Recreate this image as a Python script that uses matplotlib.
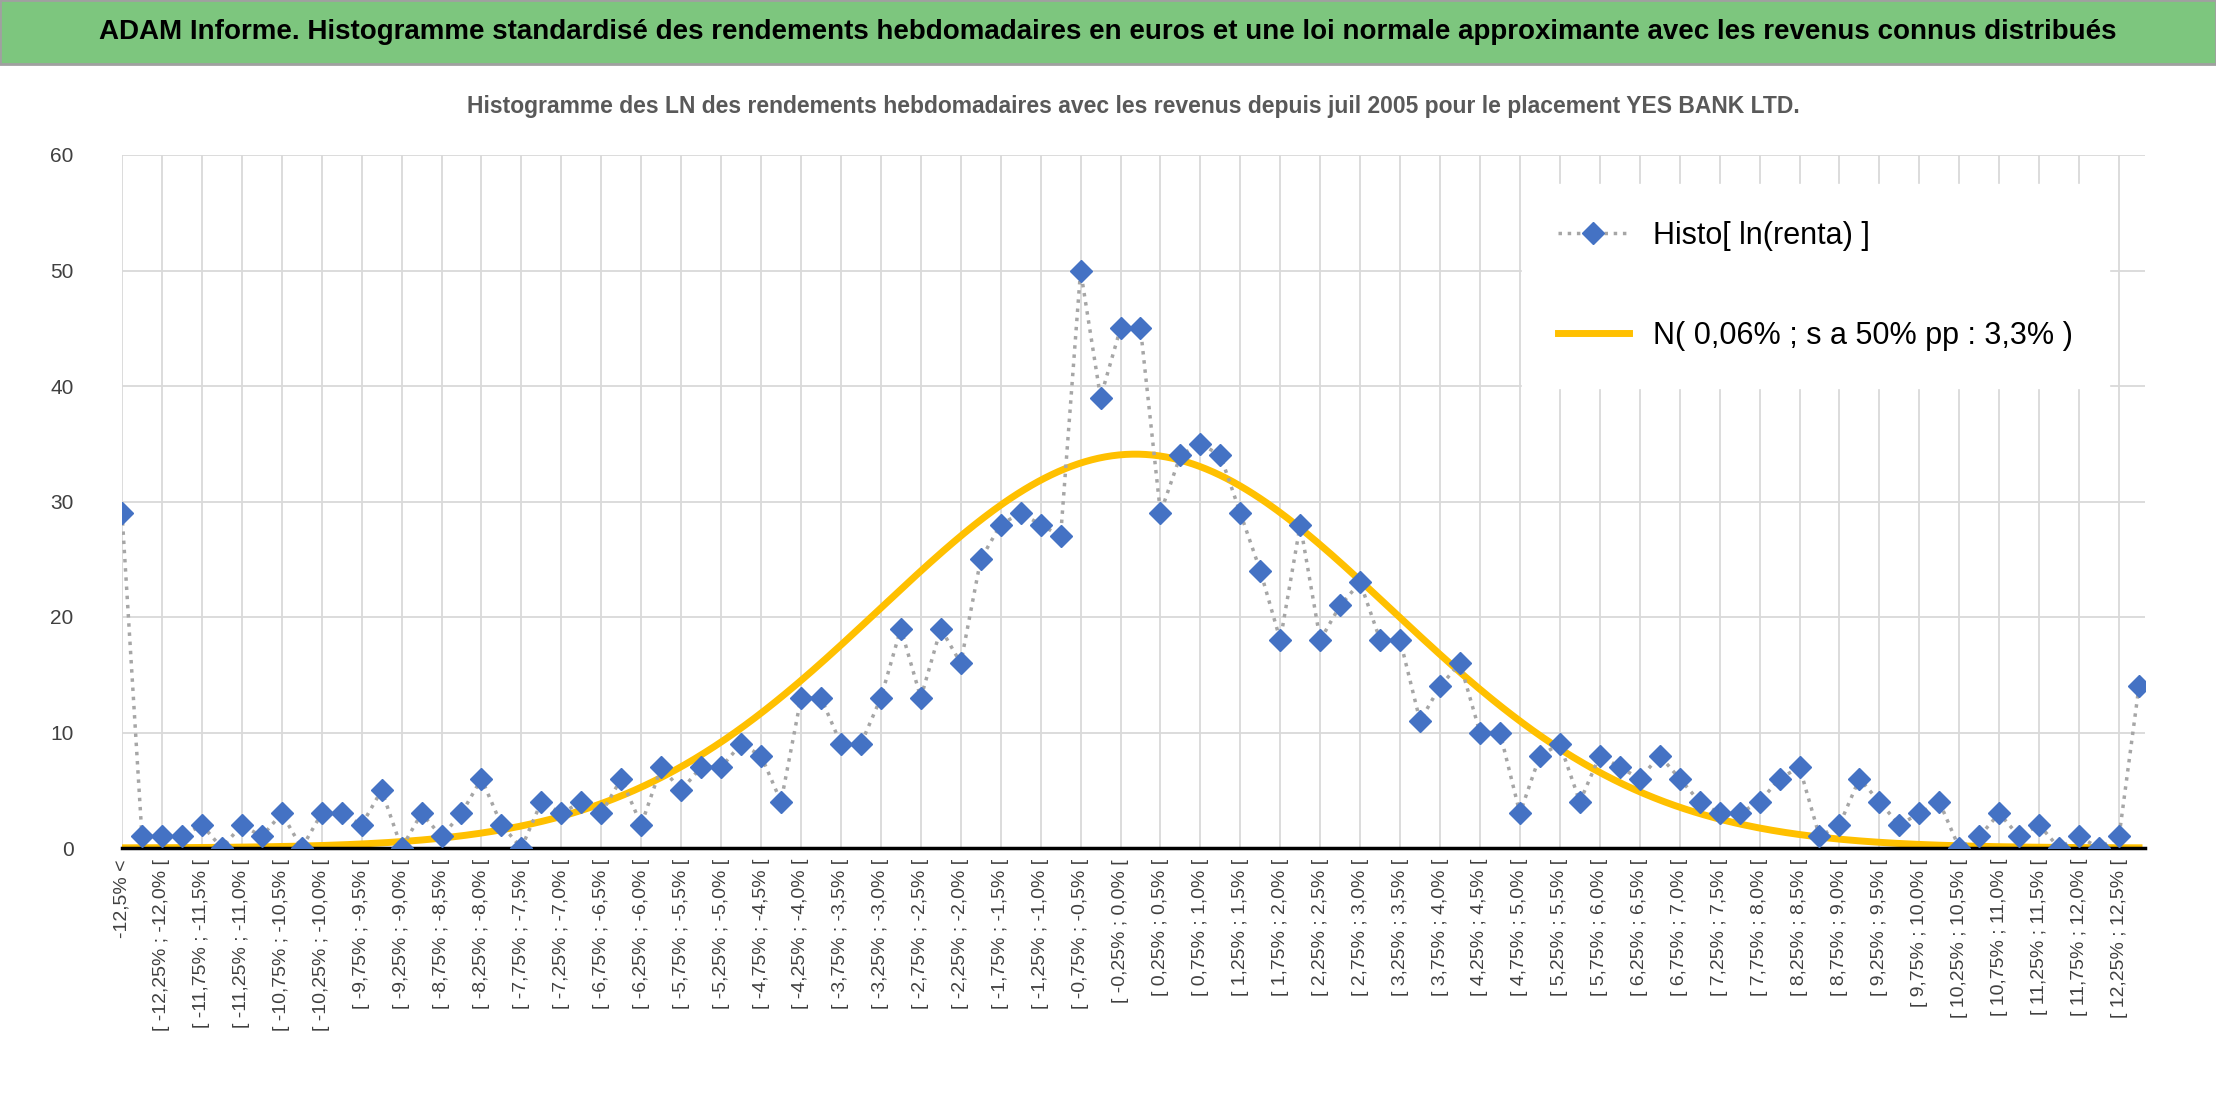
import numpy as np
import matplotlib.pyplot as plt
from matplotlib.patches import Rectangle

# ---------- DATA ----------
counts = [29, 1, 1, 1, 2, 0, 2, 1, 3, 0,
          3, 3, 2, 5, 0, 3, 1, 3, 6, 2,
          0, 4, 3, 4, 3, 6, 2, 7, 5, 7,
          7, 9, 8, 4, 13, 13, 9, 9, 13, 19,
          13, 19, 16, 25, 28, 29, 28, 27, 50, 39,
          45, 45, 29, 34, 35, 34, 29, 24, 18, 28,
          18, 21, 23, 18, 18, 11, 14, 16, 10, 10,
          3, 8, 9, 4, 8, 7, 6, 8, 6, 4,
          3, 3, 4, 6, 7, 1, 2, 6, 4, 2,
          3, 4, 0, 1, 3, 1, 2, 0, 1, 0,
          1, 14]
mean_pct = 0.06
sigma_pct = 3.2
peak = 34.1


def fmt(v):
    s = f"{v:.2f}".rstrip('0')
    if s.endswith('.'):
        s += '0'
    return s.replace('.', ',') + '%'


labels = ["-12,5% <"]
for i in range(100):
    lo = -12.5 + 0.25 * i
    labels.append(f"[ {fmt(lo)} ; {fmt(lo + 0.25)} [")
labels.append("12,5% >")

x = np.arange(len(counts))
# bin centres in % for the fitted normal curve
centres = np.array([-12.5] + [-12.5 + 0.25 * i + 0.125 for i in range(100)] + [12.5])
xs = np.linspace(0, len(counts) - 1, 600)
cs = np.interp(xs, x, centres)
curve = peak * np.exp(-0.5 * ((cs - mean_pct) / sigma_pct) ** 2)

# ---------- PLOT ----------
plt.rcParams['font.family'] = ['Liberation Sans', 'DejaVu Sans']
W, H = 2216, 1103
fig = plt.figure(figsize=(W / 100, H / 100), dpi=100)

# title bar
fig.patches.append(Rectangle((0, 1 - 64 / H), 1, 64 / H, transform=fig.transFigure,
                             facecolor='#7dc67e', edgecolor='#a0a0a0', lw=2))
fig.text(0.5, 1 - 32 / H, "ADAM Informe. Histogramme standardisé des rendements hebdomadaires en euros et une loi normale approximante avec les revenus connus distribués",
         ha='center', va='center', fontsize=20, fontweight='bold', color='black')

ax = fig.add_axes([122 / W, 1 - 848 / H, (2145 - 122) / W, (848 - 155) / H])
ax.plot(x, counts, linestyle=':', color='#a6a6a6', lw=2.5, marker='D', markersize=11,
        markerfacecolor='#4472c4', markeredgecolor='#4472c4', label='Histo[ ln(renta) ]', zorder=3)
ax.plot(xs, curve, color='#ffc000', lw=5, label='N( 0,06% ; s a 50% pp : 3,3% )', zorder=2)

ax.set_ylim(0, 60)
ax.set_xlim(0, len(counts) - 1 + 0.3)
ax.set_yticks(range(0, 61, 10))
ax.set_xticks(x[::2])
ax.set_xticklabels(labels[::2], rotation=90, fontsize=14, color='#404040')
ax.tick_params(axis='y', labelsize=15, colors='#404040', length=0, pad=35)
ax.tick_params(axis='x', length=0, pad=8)
ax.grid(True, color='#d9d9d9', lw=1.3)
ax.set_axisbelow(True)
for s in ['top', 'right', 'left']:
    ax.spines[s].set_visible(False)
ax.spines['bottom'].set_color('black')
ax.spines['bottom'].set_linewidth(2.5)

ax.set_title("Histogramme des LN des rendements hebdomadaires avec les revenus depuis juil 2005 pour le placement YES BANK LTD.",
             fontsize=16.5, fontweight='bold', color='#595959', pad=30)

leg = ax.legend(loc='upper right', bbox_to_anchor=(0.99, 0.98), fontsize=22, frameon=True,
                fancybox=False, edgecolor='white', framealpha=1, labelspacing=2.3,
                handlelength=2.3, borderpad=1.2)

fig.savefig('out.png', dpi=100)
